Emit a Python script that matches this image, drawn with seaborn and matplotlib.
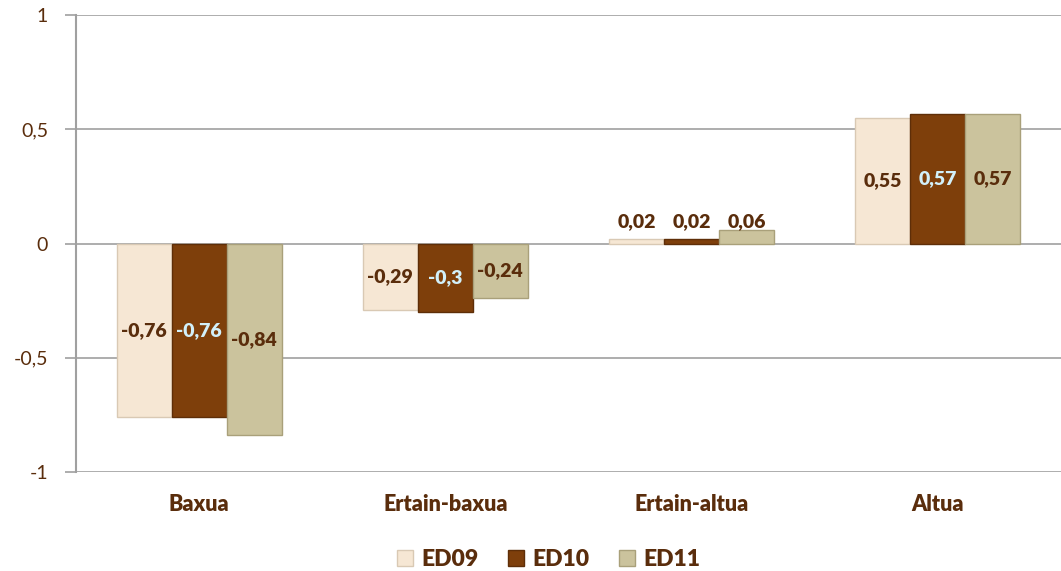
import matplotlib
matplotlib.use("Agg")
import matplotlib.pyplot as plt
import seaborn as sns
import pandas as pd

categories = ["Baxua", "Ertain-baxua", "Ertain-altua", "Altua"]
series = ["ED09", "ED10", "ED11"]
ed09 = [-0.76, -0.29, 0.02, 0.55]
ed10 = [-0.76, -0.30, 0.02, 0.57]
ed11 = [-0.84, -0.24, 0.06, 0.57]
labels09 = ["-0,76", "-0,29", "0,02", "0,55"]
labels10 = ["-0,76", "-0,3", "0,02", "0,57"]
labels11 = ["-0,84", "-0,24", "0,06", "0,57"]
yticks = [-1, -0.5, 0, 0.5, 1]
ytick_labels = ["-1", "-0,5", "0", "0,5", "1"]

colors = {"ED09": "#F6E7D4", "ED10": "#7E3F0B", "ED11": "#CBC39D"}
edges = {"ED09": "#D9C9B4", "ED10": "#5E2E08", "ED11": "#A9A07A"}
text_colors = {"ED09": "#5A2D0C", "ED10": "#D2F0FA", "ED11": "#5A2D0C"}
brown = "#5A2D0C"

rows = []
for s, vals in zip(series, [ed09, ed10, ed11]):
    for c, v in zip(categories, vals):
        rows.append({"cat": c, "series": s, "value": v})
df = pd.DataFrame(rows)

sns.set_theme(style="white")
plt.rcParams["font.family"] = ["Lato", "DejaVu Sans"]

fig = plt.figure(figsize=(10.61, 5.71), dpi=100)
ax = fig.add_axes([0.0716, 0.174, 0.9284, 0.799])

sns.barplot(data=df, x="cat", y="value", hue="series", order=categories,
            hue_order=series, palette=colors, saturation=1, width=0.67, ax=ax,
            zorder=3, legend=True)

all_labels = [labels09, labels10, labels11]
for i, (cont, s) in enumerate(zip(ax.containers, series)):
    for j, patch in enumerate(cont.patches):
        patch.set_edgecolor(edges[s])
        patch.set_linewidth(1.0)
        v = patch.get_height()
        xc = patch.get_x() + patch.get_width() / 2
        if abs(v) < 0.1:
            ypos = 0.095
            tc = brown
        else:
            ypos = v / 2
            tc = text_colors[s]
        ax.text(xc, ypos, all_labels[i][j], ha="center", va="center",
                fontsize=14, fontweight="heavy", color=tc, zorder=5)

ax.set_ylim(-1, 1)
ax.set_xlim(-0.5, 3.5)
ax.set_yticks(yticks)
ax.set_yticklabels(ytick_labels, fontsize=14, color=brown)
ax.yaxis.grid(True, color="#A0A0A0", linewidth=1.2, zorder=0)
ax.set_axisbelow(True)
ax.tick_params(axis="y", which="both", left=True, length=8, width=1.2,
               color="#A0A0A0", pad=12)
ax.tick_params(axis="x", length=0, pad=16)
for lbl in ax.get_xticklabels():
    lbl.set_fontweight("heavy")
    lbl.set_fontsize(15.5)
    lbl.set_color(brown)
ax.set_xlabel("")
ax.set_ylabel("")
for side in ["top", "right", "bottom"]:
    ax.spines[side].set_visible(False)
ax.spines["left"].set_color("#A0A0A0")
ax.spines["left"].set_linewidth(1.5)

handles, lbls = ax.get_legend_handles_labels()
for h, s in zip(handles, series):
    h.set_edgecolor(edges[s])
leg = ax.legend(handles, lbls, loc="lower center", bbox_to_anchor=(0.48, -0.26),
                ncol=3, frameon=False, handlelength=0.7, handleheight=0.7,
                handletextpad=0.35, columnspacing=1.3,
                prop={"family": ["Lato", "DejaVu Sans"], "weight": "heavy", "size": 16.5})
for t in leg.get_texts():
    t.set_color(brown)

fig.savefig("out.png", dpi=100)
